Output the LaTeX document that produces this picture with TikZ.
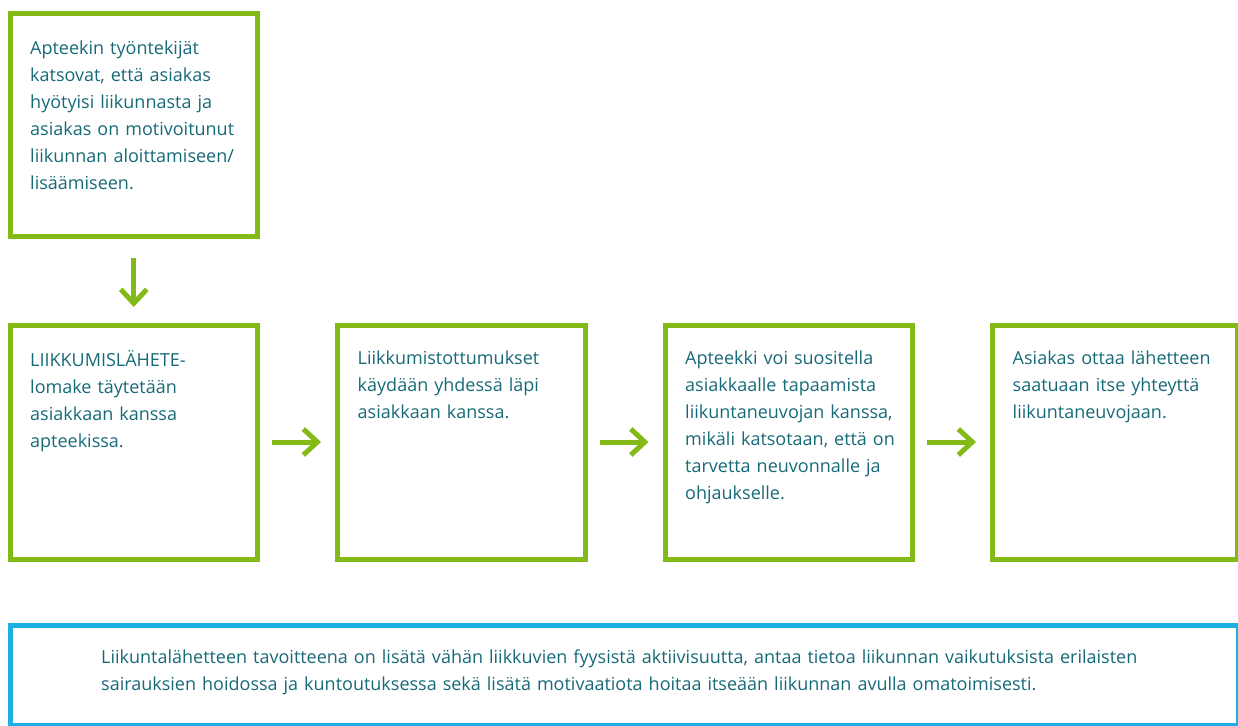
\documentclass[tikz,border=0pt]{standalone}
\usepackage{fontspec}
\setmainfont{Open Sans}
\usetikzlibrary{positioning,arrows.meta}
\definecolor{stepgreen}{RGB}{132,186,24}
\definecolor{infoblue}{RGB}{30,174,228}
\definecolor{textteal}{RGB}{22,106,120}

\begin{document}
\begin{tikzpicture}[x=1pt, y=-1pt,
    step_box/.style={draw=stepgreen, line width=5pt, minimum width=247.5pt, minimum height=234pt, inner sep=0pt},
    box_text/.style={anchor=north west, inner sep=0pt, text width=222pt, align=left, text=textteal, font=\fontsize{18}{27}\selectfont},
    info_box/.style={draw=infoblue, line width=5pt, minimum width=1228pt, minimum height=100.5pt, inner sep=0pt, anchor=north west},
    flow_arrow/.style={stepgreen, line width=5pt, -{Straight Barb[length=14pt,width=26pt]}}
]
    \useasboundingbox (0,0) rectangle (1238,725);
    % Laatikot
    \node[step_box] (b1) at (133.75,442) {};
    \node[step_box, right=75pt of b1] (b2) {};
    \node[step_box, right=75pt of b2] (b3) {};
    \node[step_box, minimum width=245pt, right=75pt of b3] (b4) {};
    \node[step_box, minimum height=222pt, above=84pt of b1] (start) {};
    \node[info_box] (info) at (7.5,622.5) {};
    % Tekstit
    \node[box_text] (t_start) at ([shift={(22.5pt,-29pt)}]start.north west)
        {Apteekin työntekijät\\katsovat, että asiakas\\hyötyisi liikunnasta ja\\asiakas on motivoitunut\\liikunnan aloittamiseen/\\lisäämiseen.};
    \node[box_text] (t1) at ([shift={(22.5pt,-28pt)}]b1.north west)
        {LIIKKUMISLÄHETE-\\lomake täytetään\\asiakkaan kanssa\\apteekissa.};
    \node[box_text] (t2) at ([shift={(22.5pt,-28pt)}]b2.north west)
        {Liikkumistottumukset\\käydään yhdessä läpi\\asiakkaan kanssa.};
    \node[box_text] (t3) at ([shift={(22.5pt,-28pt)}]b3.north west)
        {Apteekki voi suositella\\asiakkaalle tapaamista\\liikuntaneuvojan kanssa,\\mikäli katsotaan, että on\\tarvetta neuvonnalle ja\\ohjaukselle.};
    \node[box_text] (t4) at ([shift={(22.5pt,-28pt)}]b4.north west)
        {Asiakas ottaa lähetteen\\saatuaan itse yhteyttä\\liikuntaneuvojaan.};
    \node[box_text, text width=1100pt] (t_info) at ([shift={(93.5pt,-27pt)}]info.north west)
        {Liikuntalähetteen tavoitteena on lisätä vähän liikkuvien fyysistä aktiivisuutta, antaa tietoa liikunnan vaikutuksista erilaisten\\sairauksien hoidossa ja kuntoutuksessa sekä lisätä motivaatiota hoitaa itseään liikunnan avulla omatoimisesti.};
    % Nuolet
    \draw[flow_arrow] ([yshift=-19.5pt]start.south) -- ([yshift=15.5pt]b1.north);
    \draw[flow_arrow] ([xshift=12pt]b1.east) -- ([xshift=-14pt]b2.west);
    \draw[flow_arrow] ([xshift=12pt]b2.east) -- ([xshift=-14pt]b3.west);
    \draw[flow_arrow] ([xshift=12pt]b3.east) -- ([xshift=-14pt]b4.west);
\end{tikzpicture}
\end{document}
